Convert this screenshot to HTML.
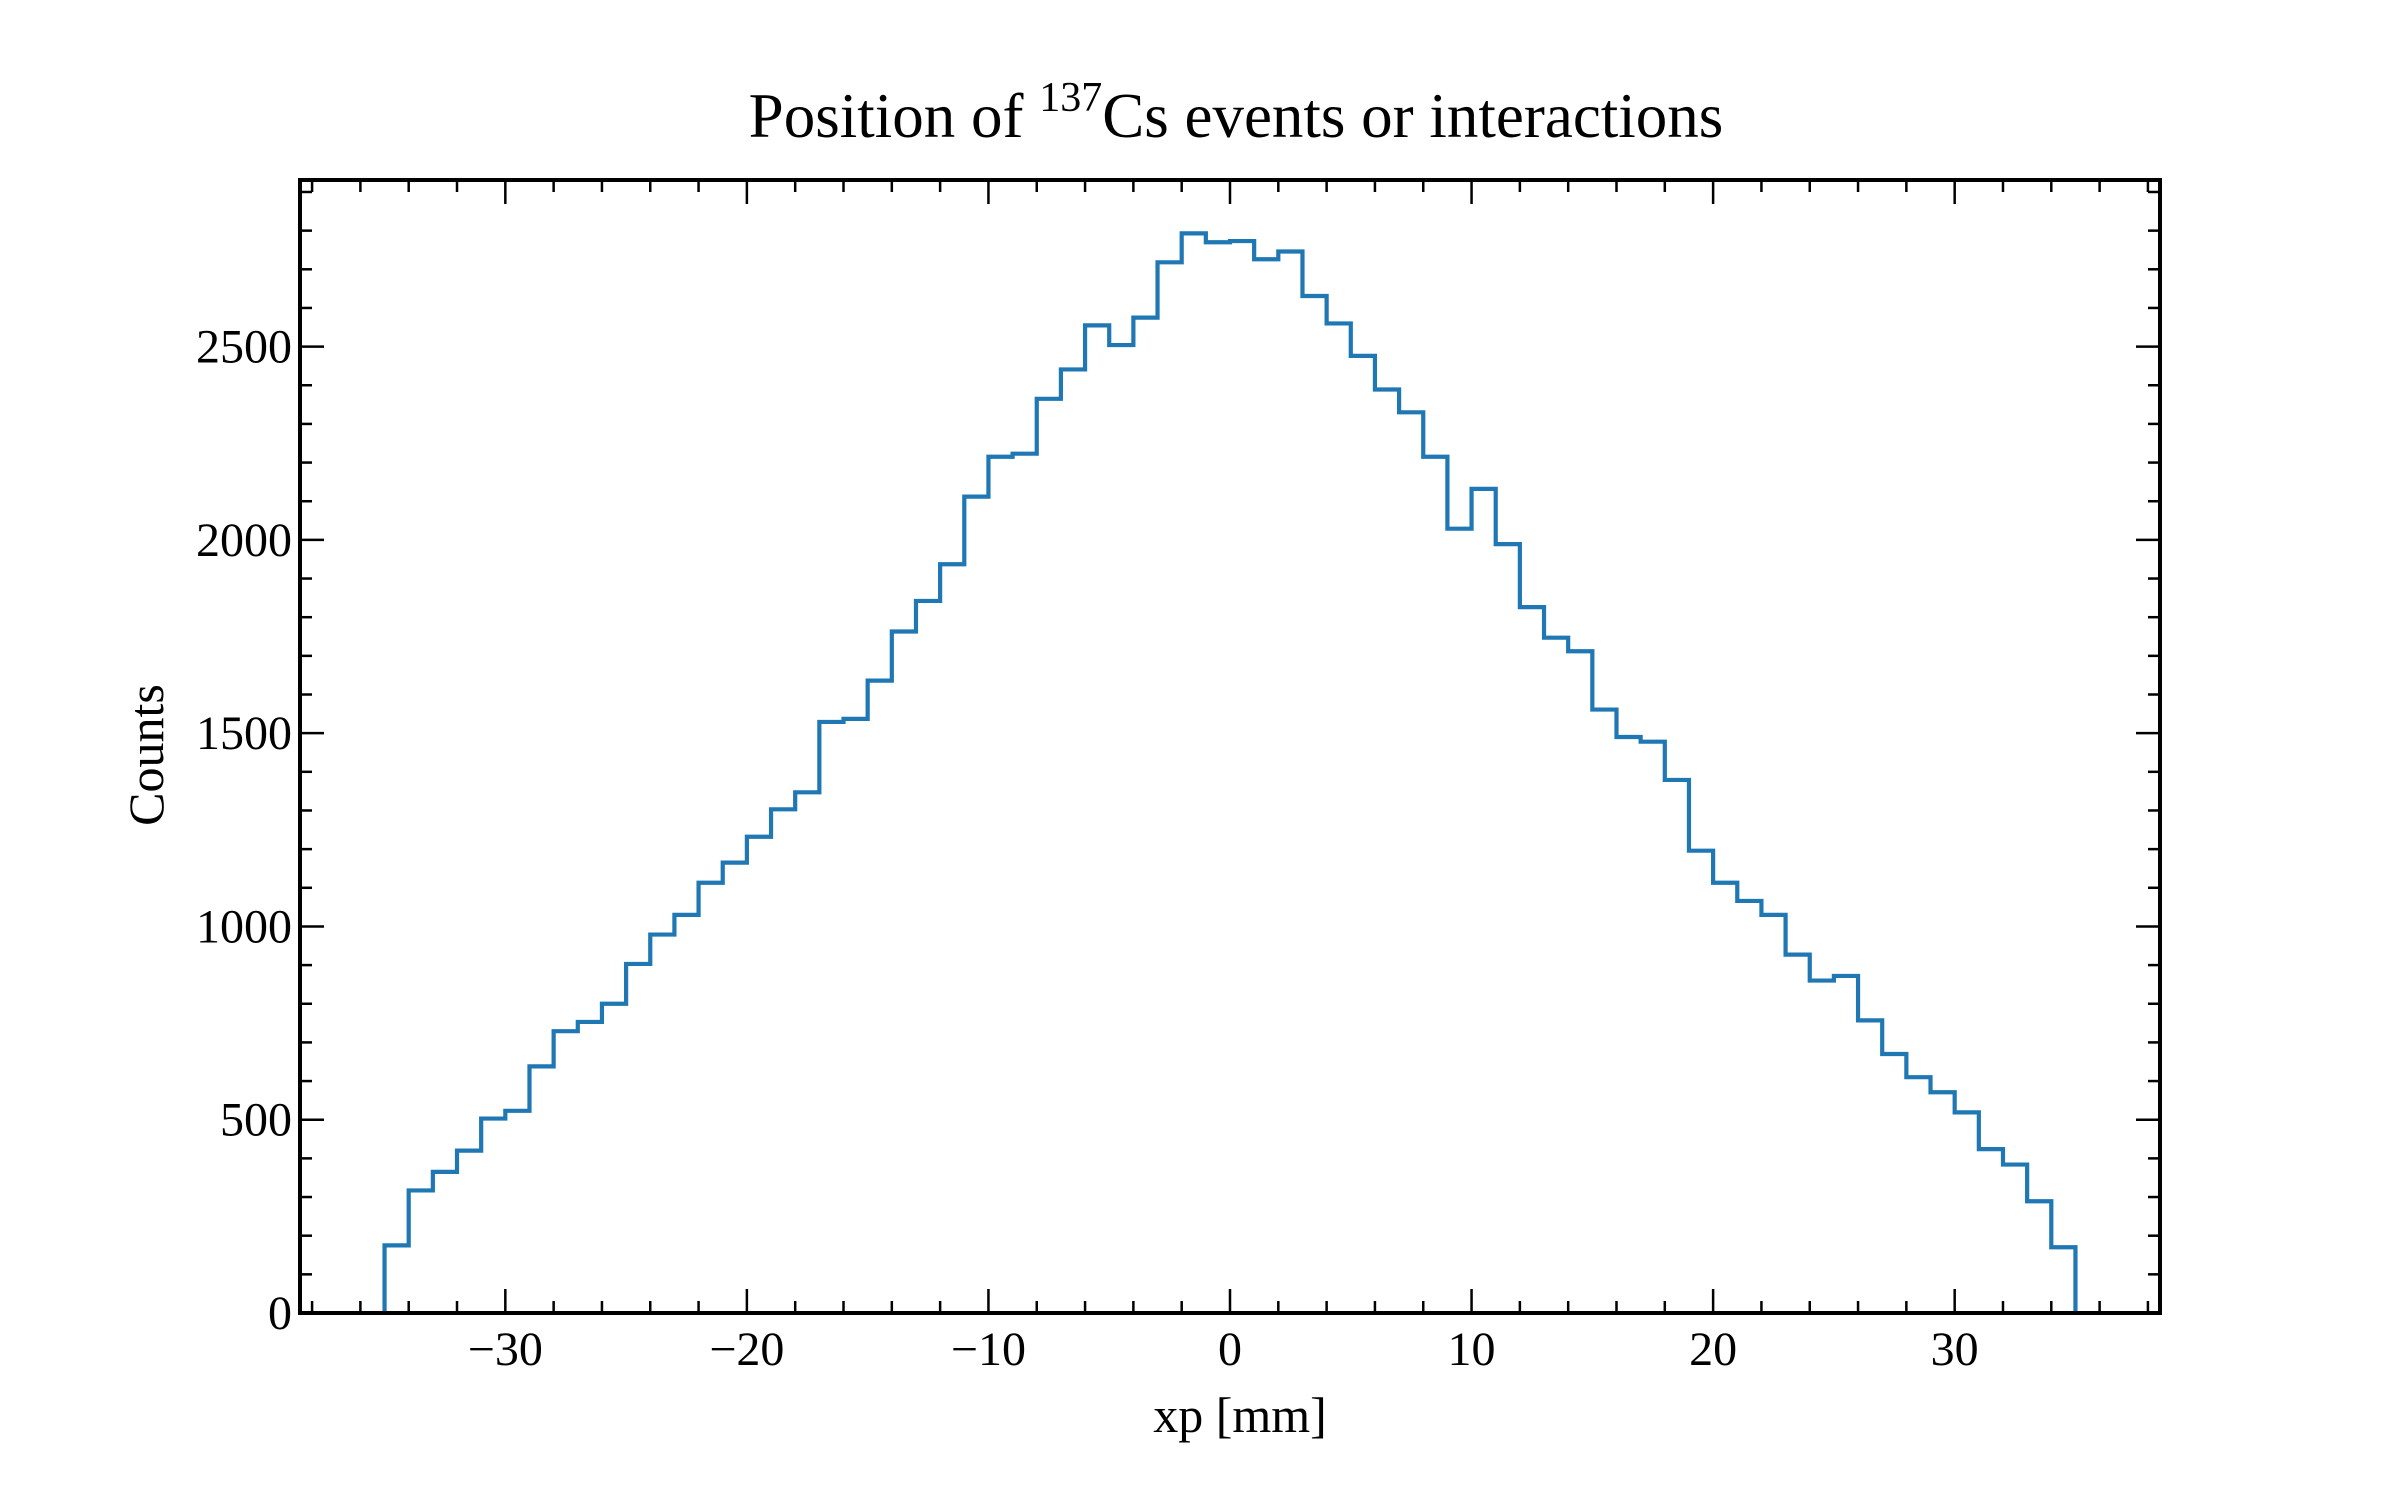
<!DOCTYPE html>
<html><head><meta charset="utf-8"><style>
html,body{margin:0;padding:0;background:#fff;}
svg{display:block;}
text{font-family:"Liberation Serif","DejaVu Serif",serif;fill:#000;}
</style></head><body>
<svg id="chart" width="2400" height="1500" viewBox="0 0 2400 1500" xmlns="http://www.w3.org/2000/svg">
<rect width="2400" height="1500" fill="#fff"/>
<text x="1236" y="137" font-size="63" text-anchor="middle">Position of <tspan font-size="42" dy="-26">137</tspan><tspan dy="26">Cs events or interactions</tspan></text>
<g id="plot"></g>
<text x="1240" y="1432" font-size="50" text-anchor="middle">xp [mm]</text>
<text transform="translate(163,755) rotate(-90)" font-size="50" text-anchor="middle">Counts</text>
</svg>
<script>
const binStart = -35;
const binWidth = 1;
const counts = [175,317,365,420,503,523,638,729,753,800,903,979,1030,1113,1165,1232,1303,1347,1529,1537,1636,1763,1842,1937,2112,2215,2223,2365,2441,2555,2504,2575,2718,2793,2770,2773,2726,2746,2631,2560,2476,2389,2330,2215,2029,2132,1989,1826,1747,1712,1561,1490,1478,1379,1196,1113,1066,1030,927,860,872,757,670,610,571,519,424,384,289,170];
const xTickLabels = [-30,-20,-10,0,10,20,30];
const yTickLabels = [0,500,1000,1500,2000,2500];

const L=300,R=2160,T=180,B=1313;
const xMin=-38.5,xMax=38.5,yMin=0,yMax=2931;
function xs(v){return L+(v-xMin)/(xMax-xMin)*(R-L);}
function ys(v){return B-(v-yMin)/(yMax-yMin)*(B-T);}
const NS="http://www.w3.org/2000/svg";
const g=document.getElementById('plot');
function mk(tag,attrs){const e=document.createElementNS(NS,tag);for(const k in attrs)e.setAttribute(k,attrs[k]);return e;}

let d="M"+xs(binStart)+","+ys(0);
counts.forEach((c,i)=>{const x0=xs(binStart+i*binWidth),x1=xs(binStart+(i+1)*binWidth);d+=" L"+x0+","+ys(c)+" L"+x1+","+ys(c);});
d+=" L"+xs(binStart+counts.length*binWidth)+","+ys(0);
const p=mk('path',{d:d,fill:'none',stroke:'#1f77b4','stroke-width':4.2,'stroke-linejoin':'miter'});


g.appendChild(p);

const tg=mk('g',{stroke:'#000','stroke-width':2.5});


g.appendChild(tg);
for(let v=-38;v<=38;v+=2){
  const major=(v%10===0);const len=major?24:12;const x=xs(v);
  tg.appendChild(mk('line',{x1:x,y1:B,x2:x,y2:B-len}));
  tg.appendChild(mk('line',{x1:x,y1:T,x2:x,y2:T+len}));
}
for(let v=0;v<=2900;v+=100){
  const major=(v%500===0);const len=major?24:12;const y=ys(v);
  tg.appendChild(mk('line',{x1:L,y1:y,x2:L+len,y2:y}));
  tg.appendChild(mk('line',{x1:R,y1:y,x2:R-len,y2:y}));
}
xTickLabels.forEach(v=>{
  const t=mk('text',{x:xs(v),y:B+52,'font-size':48,'text-anchor':'middle'});
  t.textContent=(v<0?'\u2212':'')+Math.abs(v);
  
  
  g.appendChild(t);
});
yTickLabels.forEach(v=>{
  const t=mk('text',{x:L-8,y:ys(v)+16,'font-size':48,'text-anchor':'end'});
  t.textContent=String(v);
  
  
  g.appendChild(t);
});
const frame=mk('rect',{x:L,y:T,width:R-L,height:B-T,fill:'none',stroke:'#000','stroke-width':4});


g.appendChild(frame);
</script>
</body></html>
